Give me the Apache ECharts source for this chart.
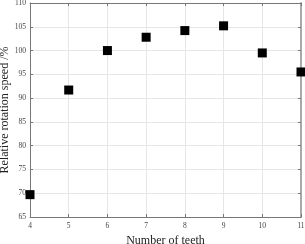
<!DOCTYPE html>
<html><head><meta charset="utf-8">
<script src="https://cdn.jsdelivr.net/npm/echarts@6/dist/echarts.min.js"></script>
<style>html,body{margin:0;padding:0;background:#fff}#c{width:305px;height:244px}</style>
</head><body><div id="c"></div>
<script>
const teeth = [4, 5, 6, 7, 8, 9, 10, 11];
const speed = [69.7, 91.7, 100.0, 102.8, 104.2, 105.2, 99.5, 95.5];
const xTitle = 'Number of teeth';
const yTitle = 'Relative rotation speed /%';

const chart = echarts.init(document.getElementById('c'), null, {renderer: 'canvas'});
const font = 'Liberation Serif';
const lab = {fontFamily: font, fontSize: 7.5, color: '#444'};
const nameStyle = {fontFamily: font, fontSize: 12, color: '#222'};
const tick = {show: true, inside: true, length: 3, lineStyle: {color: '#777'}};
const split = {show: true, lineStyle: {color: '#e6e6e6', width: 1}};
chart.setOption({
  animation: false,
  grid: {left: 30, right: 4, top: 3, bottom: 27, containLabel: false, outerBoundsMode: 'none'},
  xAxis: [{
    type: 'value', min: 4, max: 11, interval: 1, position: 'bottom',
    name: xTitle, nameLocation: 'middle', nameGap: 18, nameMoveOverlap: false, nameTextStyle: nameStyle,
    axisLine: {show: true, lineStyle: {color: '#777'}}, axisTick: tick, splitLine: split,
    axisLabel: Object.assign({margin: 5}, lab)
  }, {
    type: 'value', min: 4, max: 11, interval: 1, position: 'top',
    axisLine: {show: true, lineStyle: {color: '#777'}}, axisTick: tick,
    axisLabel: {show: false}, splitLine: {show: false}
  }],
  yAxis: [{
    type: 'value', min: 65, max: 110, interval: 5, position: 'left',
    name: yTitle, nameLocation: 'middle', nameGap: 19, nameMoveOverlap: false, nameTextStyle: nameStyle,
    axisLine: {show: true, lineStyle: {color: '#777'}}, axisTick: tick, splitLine: split,
    axisLabel: Object.assign({margin: 4}, lab)
  }, {
    type: 'value', min: 65, max: 110, interval: 5, position: 'right',
    axisLine: {show: true, lineStyle: {color: '#aaa', width: 2}}, axisTick: tick,
    axisLabel: {show: false}, splitLine: {show: false}
  }],
  series: [{
    type: 'scatter',
    data: teeth.map((t, i) => [t, speed[i]]),
    symbol: 'rect', symbolSize: 9,
    itemStyle: {color: '#000', opacity: 1},
    clip: false
  }]
});
</script></body></html>
